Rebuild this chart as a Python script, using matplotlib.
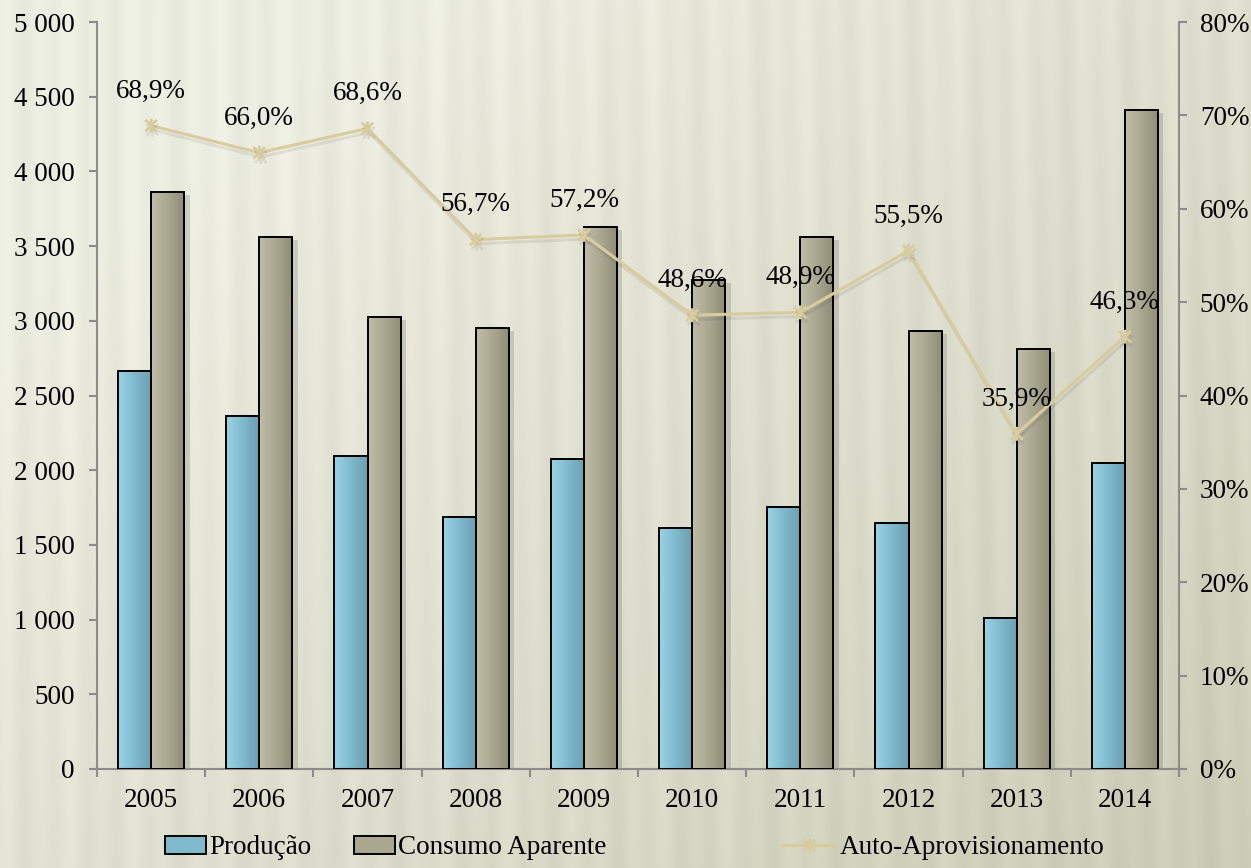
import numpy as np
import matplotlib
matplotlib.use('Agg')
import matplotlib.pyplot as plt
import matplotlib.patheffects as pe
from matplotlib.path import Path
from matplotlib.patches import Patch
from matplotlib.lines import Line2D
from matplotlib.colors import LinearSegmentedColormap
from matplotlib.ticker import FuncFormatter, MultipleLocator

# --- Data ---
years = ['2005', '2006', '2007', '2008', '2009', '2010', '2011', '2012', '2013', '2014']
producao = [2664, 2363, 2095, 1687, 2075, 1613, 1753, 1647, 1011, 2048]
consumo = [3862, 3561, 3025, 2952, 3628, 3273, 3561, 2932, 2811, 4411]
auto_aprov = [68.9, 66.0, 68.6, 56.7, 57.2, 48.6, 48.9, 55.5, 35.9, 46.3]

# --- Style ---
plt.rcParams['font.family'] = ['Liberation Serif', 'DejaVu Serif']
plt.rcParams['font.size'] = 19.5
AXIS_GREY = '#8c8c8c'
LINE_COLOR = '#d8cc9e'
BLUE_STOPS = ['#9ad3e4', '#7fb9cb', '#6a9fb1']
GREY_STOPS = ['#bfbda7', '#aaa791', '#8e8b76']

W, H = 1251, 868
fig = plt.figure(figsize=(W / 100, H / 100), dpi=100)

# background: light beige fading to a greener tone, with soft vertical stripes
bg = fig.add_axes([0, 0, 1, 1], zorder=-10)
yy, xx = np.mgrid[0:1:H * 1j, 0:1:W * 1j]
t = np.clip(0.65 * xx + 0.55 * yy - 0.2, 0, 1)
light = np.array([237, 238, 226]) / 255
dark = np.array([203, 204, 182]) / 255
img = light * (1 - t[..., None]) + dark * t[..., None]
stripes = (0.012 * np.sin(2 * np.pi * (xx * 40 + 0.8 * xx * (1 - yy)))
           + 0.008 * np.sin(2 * np.pi * (xx * 17 + 0.35)))
img = np.clip(img + stripes[..., None], 0, 1)
bg.imshow(img, aspect='auto', extent=[0, 1, 0, 1], interpolation='bilinear')
bg.axis('off')

# main axes
ax = fig.add_axes([97 / W, 99 / H, 1082 / W, 747 / H])
ax.set_facecolor('none')
x = np.arange(len(years))
bw = 0.305


def shaded_bars(xpos, values, stops):
    # soft shadow behind the bar
    ax.bar(xpos, values, bw, facecolor='none', edgecolor='none', zorder=1,
           path_effects=[pe.SimplePatchShadow(offset=(4, -2), shadow_rgbFace='black', alpha=0.13)])
    bars = ax.bar(xpos, values, bw, facecolor='none', edgecolor='black', linewidth=1.4, zorder=3)
    cmap = LinearSegmentedColormap.from_list('bar', stops)
    grad = np.linspace(0, 1, 64)[None, :]
    for r in bars:
        x0, hgt = r.get_x(), r.get_height()
        ax.imshow(grad, cmap=cmap, extent=[x0, x0 + r.get_width(), 0, hgt],
                  aspect='auto', zorder=2, interpolation='bilinear')
    return bars


shaded_bars(x - bw / 2, producao, BLUE_STOPS)
shaded_bars(x + bw / 2, consumo, GREY_STOPS)

ax.set_xlim(-0.5, len(years) - 0.5)
ax.set_ylim(0, 5000)
ax.yaxis.set_major_locator(MultipleLocator(500))
ax.yaxis.set_major_formatter(FuncFormatter(lambda v, p: f'{v:,.0f}'.replace(',', ' ')))
ax.tick_params(axis='y', length=6, width=1.5, color=AXIS_GREY, pad=10)

ax.set_xticks(np.arange(-0.5, len(years), 1))
ax.set_xticklabels([])
ax.set_xticks(x, minor=True)
ax.set_xticklabels(years, minor=True)
ax.tick_params(axis='x', which='major', length=6, width=1.5, color=AXIS_GREY)
ax.tick_params(axis='x', which='minor', length=0, pad=14)

for side in ['top', 'right']:
    ax.spines[side].set_visible(False)
for side in ['left', 'bottom']:
    ax.spines[side].set_color(AXIS_GREY)
    ax.spines[side].set_linewidth(1.5)

# secondary axis with the self-supply ratio
ax2 = ax.twinx()
ax2.set_ylim(0, 0.8)
ax2.yaxis.set_major_locator(MultipleLocator(0.1))
ax2.yaxis.set_major_formatter(FuncFormatter(lambda v, p: f'{v * 100:.0f}%'))
ax2.tick_params(axis='y', length=6, width=1.5, color=AXIS_GREY, pad=9)
for side in ['top', 'left', 'bottom']:
    ax2.spines[side].set_visible(False)
ax2.spines['right'].set_color(AXIS_GREY)
ax2.spines['right'].set_linewidth(1.5)

star = Path([(-1, -1), (1, 1), (-1, 1), (1, -1), (0, -1.2), (0, 1.2)],
            [Path.MOVETO, Path.LINETO, Path.MOVETO, Path.LINETO, Path.MOVETO, Path.LINETO])

ratio = np.array(auto_aprov) / 100
ax2.plot(x, ratio, color=LINE_COLOR, lw=2.2, marker=star, ms=10, mew=2,
         mec=LINE_COLOR, mfc='none', zorder=5,
         path_effects=[pe.SimpleLineShadow(offset=(1, -3), alpha=0.07), pe.Normal()])

for xi, v in zip(x, auto_aprov):
    ax2.annotate(f'{v:.1f}%'.replace('.', ','), (xi, v / 100), xytext=(0, 25),
                 textcoords='offset points', ha='center', va='center', zorder=6)

# legend, three separate entries spread along the bottom
leg_y = 1 - 848 / H
fig.legend(handles=[Patch(facecolor=BLUE_STOPS[1], edgecolor='black', linewidth=1.4)],
           labels=['Produção'], loc='center left', bbox_to_anchor=(165 / W, leg_y),
           frameon=False, handlelength=1.5, handleheight=0.62, handletextpad=0.12,
           borderpad=0, borderaxespad=0)
fig.legend(handles=[Patch(facecolor=GREY_STOPS[1], edgecolor='black', linewidth=1.4)],
           labels=['Consumo Aparente'], loc='center left', bbox_to_anchor=(354 / W, leg_y),
           frameon=False, handlelength=1.5, handleheight=0.62, handletextpad=0.12,
           borderpad=0, borderaxespad=0)
fig.legend(handles=[Line2D([0], [0], color=LINE_COLOR, lw=2.2, marker=star, ms=10, mew=2,
                           mec=LINE_COLOR, mfc='none')],
           labels=['Auto-Aprovisionamento'], loc='center left', bbox_to_anchor=(783 / W, leg_y),
           frameon=False, handlelength=1.9, handletextpad=0.18,
           borderpad=0, borderaxespad=0)

fig.savefig('out.png', dpi=100)
